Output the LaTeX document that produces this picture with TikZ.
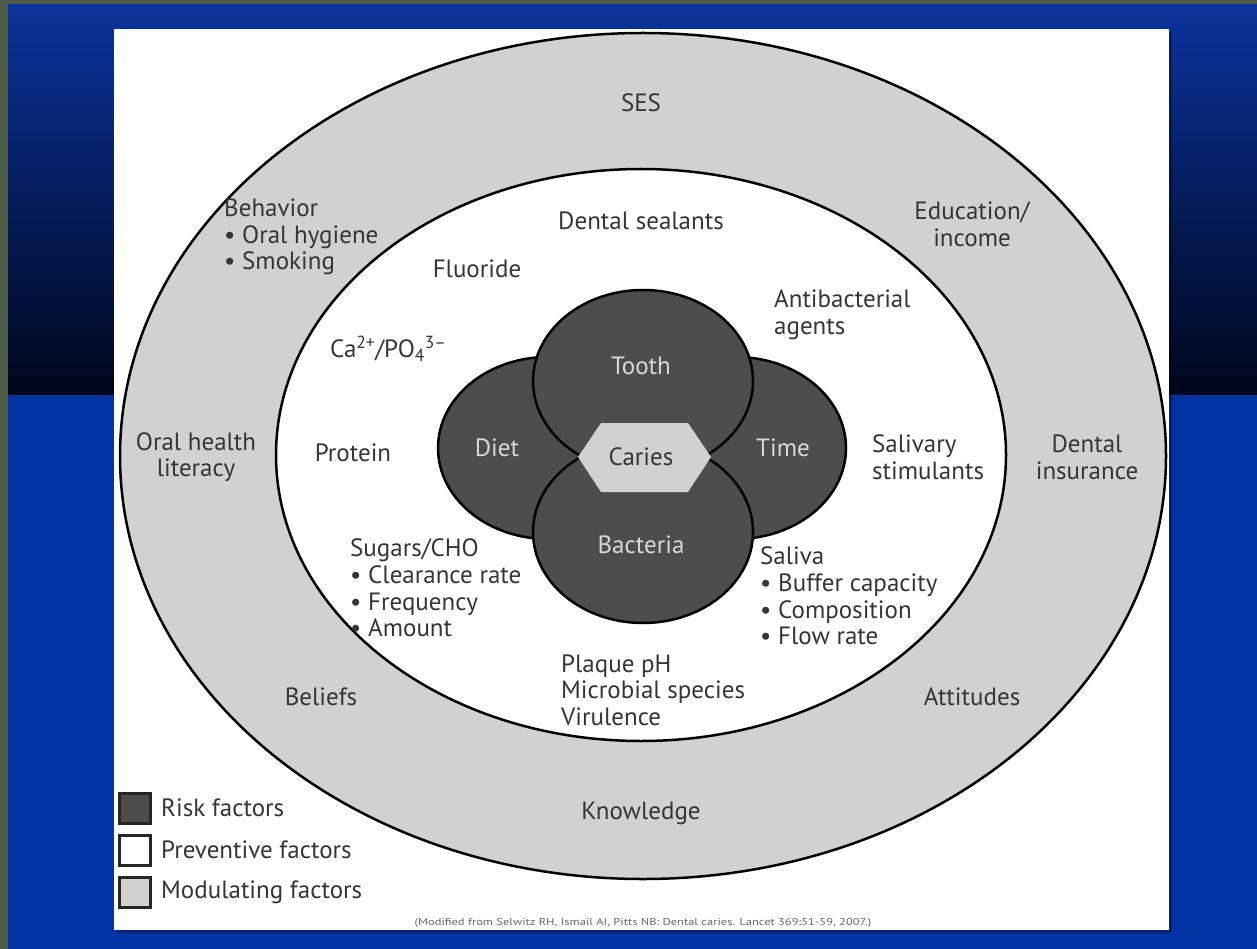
\documentclass[tikz,border=0pt]{standalone}
\usepackage{fontspec}
\setmainfont{PT Sans}
\usetikzlibrary{positioning}
\definecolor{framegreen}{HTML}{4E5C47}
\definecolor{slidetop}{HTML}{0A339C}
\definecolor{slidedark}{HTML}{00061C}
\definecolor{slideblue}{HTML}{0233A2}
\definecolor{riskgray}{HTML}{4D4D4F}
\definecolor{modgray}{HTML}{D0D1D3}
\definecolor{inktext}{HTML}{353537}
\definecolor{risktext}{HTML}{D8D8DA}
\tikzstyle{factor} = [inner sep=0, text=inktext, font=\fontsize{25}{26.6}\selectfont]
\tikzstyle{block} = [factor, anchor=west, align=left]
\tikzstyle{stack} = [factor, align=center]
\tikzstyle{riskname} = [inner sep=0, text=risktext, font=\fontsize{25}{26.6}\selectfont]
\tikzstyle{ring} = [draw=black, line width=2.5pt]
\tikzstyle{legendbox} = [draw=black!85, line width=3pt, minimum width=31pt, minimum height=30pt, inner sep=0]

\begin{document}
\begin{tikzpicture}[x=1pt, y=-1pt, node distance=42pt]
\useasboundingbox (0,0) rectangle (1257,949);
% slide background
\fill[framegreen] (0,0) rectangle (1257,949);
\shade[top color=slidetop, bottom color=slidedark] (8,5) rectangle (1257,395);
\fill[slideblue] (8,395) rectangle (1257,949);
\fill[black, opacity=0.3] (117,32) rectangle (1172,933);
\fill[white] (114,29) rectangle (1169,930);
% modulating and preventive rings
\filldraw[ring, fill=modgray] (643,456) ellipse [x radius=523, y radius=423];
\filldraw[ring, fill=white] (641,455) ellipse [x radius=365, y radius=286];
% risk factors
\filldraw[ring, fill=riskgray] (548,448) ellipse [x radius=110, y radius=91];
\filldraw[ring, fill=riskgray] (736,448) ellipse [x radius=110, y radius=91];
\filldraw[ring, fill=riskgray] (643,381) ellipse [x radius=110, y radius=91];
\filldraw[ring, fill=riskgray] (643,532) ellipse [x radius=110, y radius=91];
\fill[modgray] (578,457) -- (601,423) -- (688,423) -- (711,457) -- (688,492) -- (601,492) -- cycle;

\node(ses)[factor] at (641,103) {SES};
\node(behavior)[block] at (224,237) {Behavior\\• Oral hygiene\\• Smoking};
\node(education)[stack] at (972,224) {Education/\\income};
\node(sealants)[factor] at (641,221) {Dental sealants};
\node(fluoride)[factor] at (477,269) {Fluoride};
\node(antibacterial)[block] at (774,315) {Antibacterial\\agents};
\node(ions)[block] at (330,349) {Ca\textsuperscript{2+}/PO\textsubscript{4}\textsuperscript{3–}};
\node(literacy)[stack] at (196,457) {Oral health\\literacy};
\node(protein)[factor] at (353,453) {Protein};
\node(salivary)[block] at (872,457) {Salivary\\stimulants};
\node(insurance)[stack] at (1087,457) {Dental\\insurance};
\node(sugars)[block] at (350,588) {Sugars/CHO\\• Clearance rate\\• Frequency\\• Amount};
\node(saliva)[block] at (760,596) {Saliva\\• Buffer capacity\\• Composition\\• Flow rate};
\node(plaque)[block] at (561,690) {Plaque pH\\Microbial species\\Virulence};
\node(beliefs)[factor] at (321,697) {Beliefs};
\node(attitudes)[factor] at (972,697) {Attitudes};
\node(knowledge)[factor] at (641,813) {Knowledge};

\node(tooth)[riskname] at (641,366) {Tooth};
\node(diet)[riskname] at (497,448) {Diet};
\node(time)[riskname] at (783,448) {Time};
\node(bacteria)[riskname] at (641,545) {Bacteria};
\node(caries)[factor] at (641,457) {Caries};

% legend
\node(risksq)[legendbox, fill=riskgray] at (135,808) {};
\node(prevsq)[legendbox, fill=white, below of=risksq] {};
\node(modsq)[legendbox, fill=modgray, below of=prevsq] {};
\node(risklbl)[factor, right=9pt of risksq] {Risk factors};
\node(prevlbl)[factor, right=9pt of prevsq] {Preventive factors};
\node(modlbl)[factor, right=9pt of modsq] {Modulating factors};

\node(source)[inner sep=0, text=black!60, font=\fontsize{10}{11}\selectfont, transform shape, xscale=1.25] at (643,923) {(Modified from Selwitz RH, Ismail AI, Pitts NB: Dental caries. Lancet 369:51-59, 2007.)};
\end{tikzpicture}
\end{document}
